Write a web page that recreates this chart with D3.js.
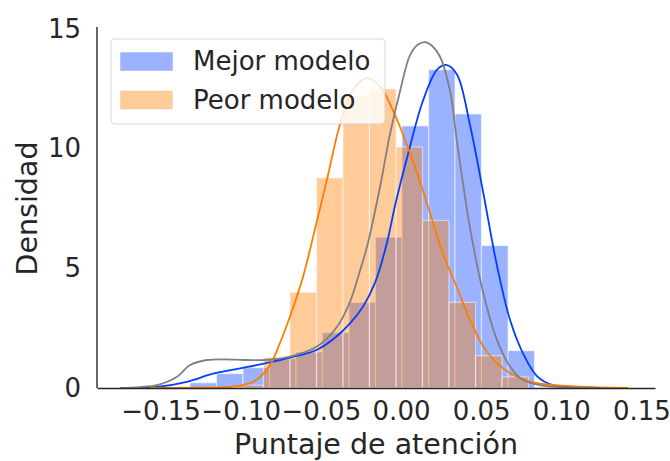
<!DOCTYPE html>
<html>
<head>
<meta charset="utf-8">
<script src="https://cdn.jsdelivr.net/npm/d3@7"></script>
<style>
  body { margin: 0; background: #fff; }
  text { font-family: "DejaVu Sans", sans-serif; fill: #262626; }
</style>
</head>
<body>
<script>
// DATA
var seriesNames = ["Mejor modelo", "Peor modelo"];

// histogram bin edges and densities
var mejorEdges = [-0.1316, -0.1151, -0.0986, -0.0820, -0.0655, -0.0490, -0.0324, -0.0159, 0.0006, 0.0172, 0.0337, 0.0502, 0.0668, 0.0833];
var mejorDens  = [0.22, 0.6, 0.85, 1.22, 1.5, 2.31, 3.57, 6.3, 10.95, 13.3, 11.45, 5.95, 1.56];

var peorEdges = [-0.1023, -0.0858, -0.0693, -0.0527, -0.0362, -0.0197, -0.0031, 0.0134, 0.0299, 0.0465, 0.0630, 0.0795];
var peorDens  = [0.12, 1.28, 4.0, 8.78, 12.2, 12.5, 10.07, 7.0, 3.58, 1.35, 0.46];

// kde curves (x, density)
var mejorKdeX = [-0.1753, -0.1522, -0.1335, -0.1173, -0.1004, -0.0848, -0.0692, -0.0524, -0.0412, -0.0318, -0.0237, -0.0162, -0.0094, -0.0031, 0.0037, 0.0137, 0.0225, 0.0281, 0.0349, 0.0430, 0.0512, 0.0599, 0.0680, 0.0761, 0.0848, 0.0948, 0.1117, 0.1304];
var mejorKdeY = [0, 0.05, 0.26, 0.6, 0.82, 1.03, 1.27, 1.6, 2.1, 2.7, 3.4, 4.4, 5.9, 7.8, 9.6, 12.0, 13.3, 13.5, 13.1, 11.0, 8.2, 5.1, 2.85, 1.45, 0.5, 0.12, 0.03, 0];

var peorKdeX = [-0.1566, -0.1316, -0.1067, -0.0942, -0.0880, -0.0817, -0.0755, -0.0692, -0.0611, -0.0524, -0.0462, -0.0381, -0.0299, -0.0212, -0.0131, -0.0050, 0.0012, 0.0100, 0.0181, 0.0262, 0.0349, 0.0430, 0.0512, 0.0599, 0.0724, 0.0848, 0.1054, 0.1241, 0.1416];
var peorKdeY = [0, 0.01, 0.05, 0.2, 0.45, 0.96, 1.88, 3.0, 4.65, 7.0, 8.7, 11.0, 12.45, 12.95, 12.6, 11.6, 10.6, 9.0, 7.3, 5.6, 4.2, 2.85, 1.75, 1.03, 0.47, 0.2, 0.08, 0.03, 0];

var grisKdeX = [-0.1753, -0.1628, -0.1522, -0.1397, -0.1316, -0.1210, -0.1110, -0.0961, -0.0848, -0.0692, -0.0524, -0.0399, -0.0318, -0.0256, -0.0212, -0.0131, -0.0069, -0.0006, 0.0056, 0.0106, 0.0150, 0.0193, 0.0243, 0.0306, 0.0349, 0.0399, 0.0430, 0.0512, 0.0599, 0.0680, 0.0761, 0.0886, 0.1054, 0.1241];
var grisKdeY = [0, 0.04, 0.12, 0.47, 0.96, 1.17, 1.2, 1.17, 1.17, 1.31, 1.73, 2.56, 3.6, 4.9, 5.9, 8.4, 10.6, 12.4, 13.9, 14.35, 14.45, 14.3, 13.85, 12.4, 10.3, 8.0, 6.7, 4.0, 2.0, 0.9, 0.33, 0.1, 0.03, 0];

var xTicks = [-0.15, -0.10, -0.05, 0.00, 0.05, 0.10, 0.15];
var yTicks = [0, 5, 10, 15];
var xLabel = "Puntaje de atención";
var yLabel = "Densidad";

// SET DIMENSIONS
var W = 670, H = 461;
var plotLeft = 97, plotRight = 655, plotTop = 29, plotBottom = 388;

var x = d3.scaleLinear().domain([-0.18965, 0.15845]).range([plotLeft, plotRight]);
var y = d3.scaleLinear().domain([0, 15]).range([plotBottom, plotTop]);

var svg = d3.select("body").append("svg")
    .attr("width", W)
    .attr("height", H);

// HISTOGRAMS
function bins(edges, dens) {
  return dens.map(function(d, i) { return {x0: edges[i], x1: edges[i + 1], v: d}; });
}

function drawHist(data, color) {
  svg.append("g").selectAll("rect")
    .data(data)
    .enter().append("rect")
      .attr("x", function(d) { return x(d.x0); })
      .attr("y", function(d) { return y(d.v); })
      .attr("width", function(d) { return x(d.x1) - x(d.x0); })
      .attr("height", function(d) { return y(0) - y(d.v); })
      .attr("fill", color)
      .attr("fill-opacity", 0.4)
      .attr("stroke", "#fff")
      .attr("stroke-opacity", 0.5)
      .attr("stroke-width", 1.2);
}

drawHist(bins(mejorEdges, mejorDens), "#023eff");
drawHist(bins(peorEdges, peorDens), "#ff7c00");

// KDE LINES
var line = d3.line()
    .x(function(d) { return x(d[0]); })
    .y(function(d) { return y(d[1]); })
    .curve(d3.curveCatmullRom.alpha(0.5));

function drawKde(xs, ys, color) {
  svg.append("path")
    .datum(xs.map(function(v, i) { return [v, ys[i]]; }))
    .attr("d", line)
    .attr("fill", "none")
    .attr("stroke", color)
    .attr("stroke-width", 1.8);
}

drawKde(mejorKdeX, mejorKdeY, "#023eff");
drawKde(peorKdeX, peorKdeY, "#ff7c00");
drawKde(grisKdeX, grisKdeY, "#808080");

// AXES
var xAxis = d3.axisBottom(x).tickValues(xTicks).tickSize(0).tickSizeOuter(0).tickPadding(14)
    .tickFormat(d3.format(".2f"));
var yAxis = d3.axisLeft(y).tickValues(yTicks).tickSize(0).tickSizeOuter(0).tickPadding(16);

var gx = svg.append("g").attr("transform", "translate(0," + plotBottom + ")").call(xAxis);
var gy = svg.append("g").attr("transform", "translate(" + plotLeft + ",0)").call(yAxis);

[gx, gy].forEach(function(g) {
  g.select(".domain").attr("stroke", "#262626").attr("stroke-width", 1.4);
  g.selectAll("text").style("font-size", "26px").attr("fill", "#262626");
});
gy.select(".domain").attr("d", "M0," + plotBottom + "V27");

svg.append("text")
    .attr("x", (plotLeft + plotRight) / 2)
    .attr("y", 454)
    .attr("text-anchor", "middle")
    .style("font-size", "28.5px")
    .text(xLabel);

svg.append("text")
    .attr("transform", "translate(37," + (plotTop + plotBottom) / 2 + ") rotate(-90)")
    .attr("text-anchor", "middle")
    .style("font-size", "28.5px")
    .text(yLabel);

// LEGEND
var legend = svg.append("g");
legend.append("rect")
    .attr("x", 111).attr("y", 39)
    .attr("width", 274).attr("height", 85)
    .attr("rx", 4)
    .attr("fill", "#fff").attr("fill-opacity", 0.8)
    .attr("stroke", "#ccc").attr("stroke-opacity", 0.8);

var legColors = ["#023eff", "#ff7c00"];
seriesNames.forEach(function(name, i) {
  legend.append("rect")
      .attr("x", 120).attr("y", 52 + i * 38.5)
      .attr("width", 53).attr("height", 19)
      .attr("fill", legColors[i]).attr("fill-opacity", 0.4)
      .attr("stroke", "#fff").attr("stroke-opacity", 0.5);
  legend.append("text")
      .attr("x", 193).attr("y", 70 + i * 38.5)
      .style("font-size", "26px")
      .text(name);
});
</script>
</body>
</html>
